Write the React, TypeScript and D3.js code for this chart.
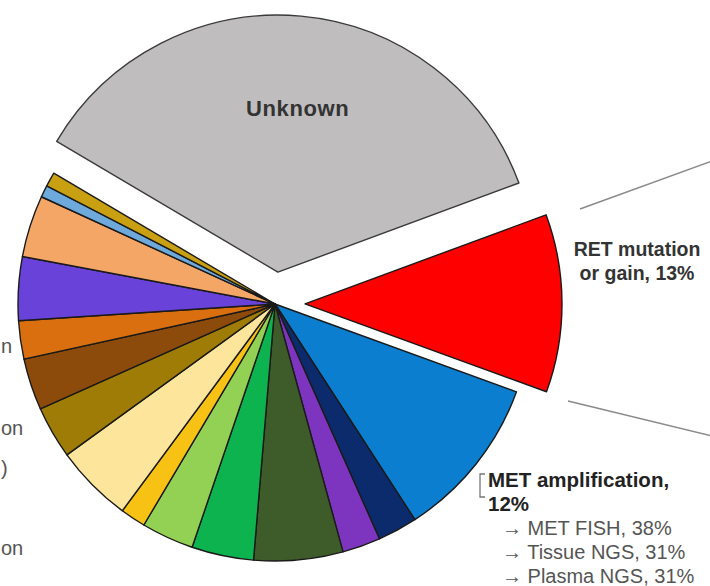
import React from "react";
import * as d3 from "d3";

const categories = [
  "Unknown",
  "RET mutation or gain",
  "MET amplification",
  "Other 1",
  "Other 2",
  "Other 3",
  "Other 4",
  "Other 5",
  "Other 6",
  "Other 7",
  "Other 8",
  "Other 9",
  "Other 10",
  "Other 11",
  "Other 12",
  "Other 13",
  "Other 14",
];
const values = [35.9, 11.2, 10.3, 2.5, 2.4, 5.6, 3.9, 3.3, 1.6, 4.9, 3.3, 3.25, 2.4, 4.0, 3.9, 0.75, 0.9];
const sliceColors = [
  "#bfbdbd", "#ff0000", "#0b7ed0", "#0c2b6c", "#7d35c0", "#3e5c2a", "#0db34f",
  "#93d154", "#f7c214", "#fde69c", "#9e7c05", "#8c4a0b", "#da6f10", "#6842d9",
  "#f3a666", "#6ea9dc", "#c9a012",
];
const retLabel = ["RET mutation", "or gain, 13%"];
const metLabel = ["MET amplification,", "12%"];
const metSubLabels = ["MET FISH, 38%", "Tissue NGS, 31%", "Plasma NGS, 31%"];
const leftFragments = ["n", "on", ")", "on"];

export default function App() {
  const W = 710;
  const H = 586;
  const cx = 275;
  const cy = 304;
  const R = 257;
  const start = (-59.4 * Math.PI) / 180;
  const pie = d3
    .pie<number>()
    .sort(null)
    .value((d) => d)
    .startAngle(start)
    .endAngle(start + 2 * Math.PI);
  const arcs = pie(values);
  const arcGen = d3.arc<d3.PieArcDatum<number>>().innerRadius(0).outerRadius(R);
  const explode: Record<string, number> = { Unknown: 32, "RET mutation or gain": 30 };

  const offsetOf = (a: d3.PieArcDatum<number>, i: number) => {
    const d = explode[categories[i]] || 0;
    const m = (a.startAngle + a.endAngle) / 2;
    return [Math.sin(m) * d, -Math.cos(m) * d];
  };

  const order = arcs
    .map((_, i) => i)
    .sort((a, b) => (explode[categories[a]] ? 1 : 0) - (explode[categories[b]] ? 1 : 0));

  const unk = arcs[0];
  const [ux, uy] = offsetOf(unk, 0);
  const um = (unk.startAngle + unk.endAngle) / 2;
  const unkLabelX = cx + ux + Math.sin(um) * 165 + 5;
  const unkLabelY = cy + uy - Math.cos(um) * 165 + 2;

  const fragYs = [353, 435, 475, 555];
  const fragSizes = [20, 20, 20, 20];

  return (
    <svg
      width={W}
      height={H}
      style={{ position: "absolute", left: 0, top: 0, background: "#ffffff", overflow: "hidden" }}
      fontFamily="'Liberation Sans', Arial, sans-serif"
    >
      <rect x={0} y={0} width={W} height={H} fill="#ffffff" />
      <g>
        {order.map((i) => {
          const [ox, oy] = offsetOf(arcs[i], i);
          return (
            <path
              key={categories[i]}
              d={arcGen(arcs[i]) || ""}
              transform={`translate(${cx + ox},${cy + oy})`}
              fill={sliceColors[i]}
              stroke={i === 0 ? "#3a3a3a" : "#1a1a1a"}
              strokeWidth={1.4}
              strokeLinejoin="round"
            />
          );
        })}
      </g>
      <text
        x={unkLabelX}
        y={unkLabelY}
        textAnchor="middle"
        dominantBaseline="middle"
        fontSize={22}
        fontWeight="bold"
        fill="#333"
        letterSpacing={0.6}
      >
        {categories[0]}
      </text>

      <line x1={580} y1={209} x2={712} y2={161} stroke="#8a8a8a" strokeWidth={1.5} />
      <line x1={568} y1={401} x2={712} y2={436} stroke="#8a8a8a" strokeWidth={1.5} />

      {retLabel.map((t, i) => (
        <text key={t} x={637} y={256 + i * 24} textAnchor="middle" fontSize={19.5} fontWeight="bold" fill="#333">
          {t}
        </text>
      ))}

      <path d="M485,474 L480,474 L480,497 L485,497" fill="none" stroke="#777" strokeWidth={1.3} />
      {metLabel.map((t, i) => (
        <text key={t} x={488} y={487 + i * 24} fontSize={20.5} fontWeight="bold" fill="#222">
          {t}
        </text>
      ))}
      {metSubLabels.map((t, i) => (
        <text key={t} x={502} y={535 + i * 24} fontSize={20} fill="#555">
          {"\u2192 " + t}
        </text>
      ))}

      {leftFragments.map((t, i) => (
        <text key={i} x={1} y={fragYs[i]} fontSize={fragSizes[i]} fill="#555">
          {t}
        </text>
      ))}
    </svg>
  );
}
